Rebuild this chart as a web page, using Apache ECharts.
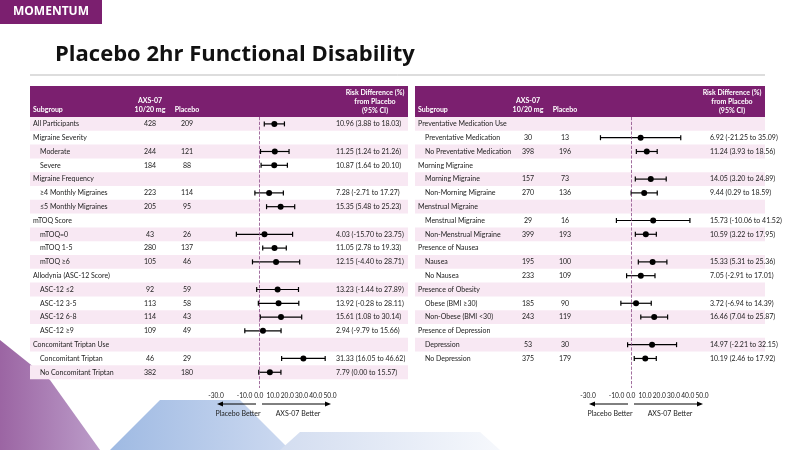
<!DOCTYPE html>
<html><head><meta charset="utf-8">
<script src="https://cdn.jsdelivr.net/npm/echarts@6/dist/echarts.min.js"></script>
<style>html,body{margin:0;padding:0;background:#fff}#c{width:800px;height:450px}</style>
</head><body><div id="c"></div>
<script>
// Left panel
const leftLabels = ['All Participants','Migraine Severity','Moderate','Severe','Migraine Frequency','≥4 Monthly Migraines','≤5 Monthly Migraines','mTOQ Score','mTOQ=0','mTOQ 1-5','mTOQ ≥6','Allodynia (ASC-12 Score)','ASC-12 ≤2','ASC-12 3-5','ASC-12 6-8','ASC-12 ≥9','Concomitant Triptan Use','Concomitant Triptan','No Concomitant Triptan'];
const leftIndent = [0,0,1,1,0,1,1,0,1,1,1,0,1,1,1,1,0,1,1];
const leftAxs = [428,null,244,184,null,223,205,null,43,280,105,null,92,113,114,109,null,46,382];
const leftPbo = [209,null,121,88,null,114,95,null,26,137,46,null,59,58,43,49,null,29,180];
const leftEst = [10.96,null,11.25,10.87,null,7.28,15.35,null,4.03,11.05,12.15,null,13.23,13.92,15.61,2.94,null,31.33,7.79];
const leftLo = [3.88,null,1.24,1.64,null,-2.71,5.48,null,-15.70,2.78,-4.40,null,-1.44,-0.28,1.08,-9.79,null,16.05,0.00];
const leftHi = [18.03,null,21.26,20.10,null,17.27,25.23,null,23.75,19.33,28.71,null,27.89,28.11,30.14,15.66,null,46.62,15.57];
// Right panel
const rightLabels = ['Preventative Medication Use','Preventative Medication','No Preventative Medication','Morning Migraine','Morning Migraine','Non-Morning Migraine','Menstrual Migraine','Menstrual Migraine','Non-Menstrual Migraine','Presence of Nausea','Nausea','No Nausea','Presence of Obesity','Obese (BMI ≥30)','Non-Obese (BMI <30)','Presence of Depression','Depression','No Depression'];
const rightIndent = [0,1,1,0,1,1,0,1,1,0,1,1,0,1,1,0,1,1];
const rightAxs = [null,30,398,null,157,270,null,29,399,null,195,233,null,185,243,null,53,375];
const rightPbo = [null,13,196,null,73,136,null,16,193,null,100,109,null,90,119,null,30,179];
const rightEst = [null,6.92,11.24,null,14.05,9.44,null,15.73,10.59,null,15.33,7.05,null,3.72,16.46,null,14.97,10.19];
const rightLo = [null,-21.25,3.93,null,3.20,0.29,null,-10.06,3.22,null,5.31,-2.91,null,-6.94,7.04,null,-2.21,2.46];
const rightHi = [null,35.09,18.56,null,24.89,18.59,null,41.52,17.95,null,25.36,17.01,null,14.39,25.87,null,32.15,17.92];
const xTicks = [-30,-20,-10,0,10,20,30,40,50];

const PURPLE = '#7b1f6f', PINK = '#f8e8f3', FONT = 'Lato';
function fmt(v){return v.toFixed(2);}
function rows(labels, indent, axs, pbo, est, lo, hi){
  return labels.map((l,i)=>({value:[i, est[i]==null?0:est[i], lo[i]==null?0:lo[i], hi[i]==null?0:hi[i]],
    lab:l, ind:indent[i], axs:axs[i], pbo:pbo[i], has:est[i]!=null,
    ci: est[i]==null?'':fmt(est[i])+' ('+fmt(lo[i])+' to '+fmt(hi[i])+')'}));
}
function makeRender(dataArr, P){
  return function(params, api){
    const d = dataArr[params.dataIndex];
    const y = api.coord([0, api.value(0)])[1];
    const h = api.size([0,1])[1];
    const ch = [];
    if (params.dataIndex % 2 === 0) ch.push({type:'rect', shape:{x:P.x0, y:y-h/2, width:P.x1-P.x0, height:h}, style:{fill:PINK}, z2:0});
    const ts = {fontFamily:FONT, fontSize:7, fill:'#222', textVerticalAlign:'middle'};
    ch.push({type:'text', style:Object.assign({}, ts, {text:d.lab, x:P.x0+3+(d.ind?7:0), y:y, textAlign:'left'}), z2:2});
    if (d.axs!=null) ch.push({type:'text', style:Object.assign({}, ts, {text:String(d.axs), x:P.cA, y:y, textAlign:'center'}), z2:2});
    if (d.pbo!=null) ch.push({type:'text', style:Object.assign({}, ts, {text:String(d.pbo), x:P.cP, y:y, textAlign:'center'}), z2:2});
    if (d.has){
      ch.push({type:'text', style:Object.assign({}, ts, {text:d.ci, x:P.cCI, y:y, textAlign:'left'}), z2:2});
      const a = api.coord([api.value(2), api.value(0)]), b = api.coord([api.value(3), api.value(0)]), c = api.coord([api.value(1), api.value(0)]);
      const ls = {stroke:'#000', lineWidth:1.2};
      ch.push({type:'line', shape:{x1:a[0],y1:y,x2:b[0],y2:y}, style:ls, z2:3});
      ch.push({type:'line', shape:{x1:a[0],y1:y-2.5,x2:a[0],y2:y+2.5}, style:ls, z2:3});
      ch.push({type:'line', shape:{x1:b[0],y1:y-2.5,x2:b[0],y2:y+2.5}, style:ls, z2:3});
      ch.push({type:'circle', shape:{cx:c[0], cy:y, r:3}, style:{fill:'#000'}, z2:4});
    }
    return {type:'group', children:ch};
  };
}
const L = rows(leftLabels,leftIndent,leftAxs,leftPbo,leftEst,leftLo,leftHi);
const R = rows(rightLabels,rightIndent,rightAxs,rightPbo,rightEst,rightLo,rightHi);
const PL = {x0:30, x1:408, cA:150, cP:187, cCI:336};
const PR = {x0:415, x1:765, cA:528, cP:565, cCI:710};

function xAx(gi){return {type:'value', gridIndex:gi, min:-30, max:50, interval:10,
  axisLine:{lineStyle:{color:'#333'}}, axisTick:{length:3, lineStyle:{color:'#333'}}, splitLine:{show:false},
  axisLabel:{fontFamily:FONT, fontSize:6.6, color:'#222', margin:4, showMinLabel:true, showMaxLabel:true, hideOverlap:false,
    formatter:v=>xTicks.includes(v)?v.toFixed(1):''}};}
function yAx(gi){return {type:'value', gridIndex:gi, inverse:true, min:-0.5, max:19.14, show:false};}
function header(P){
  const t = {fontFamily:FONT, fontSize:7, fontWeight:'bold', fill:'#fff'};
  return [
    {type:'rect', shape:{x:P.x0, y:86, width:P.x1-P.x0, height:31}, style:{fill:PURPLE}},
    {type:'text', style:Object.assign({}, t, {text:'Subgroup', x:P.x0+3, y:106})},
    {type:'text', style:Object.assign({}, t, {text:'AXS-07\n10/20 mg', x:P.cA, y:96, textAlign:'center', lineHeight:9})},
    {type:'text', style:Object.assign({}, t, {text:'Placebo', x:P.cP, y:106, textAlign:'center'})},
    {type:'text', style:Object.assign({}, t, {text:'Risk Difference (%)\nfrom Placebo\n(95% CI)', x:P.x1-33, y:88, textAlign:'center', lineHeight:9})}
  ];
}
function arrows(x0, zero, x1){
  const t = {fontFamily:FONT, fontSize:7, fill:'#222', textAlign:'center'};
  return [
    {type:'line', shape:{x1:zero-3, y1:404, x2:x0+4, y2:404}, style:{stroke:'#000', lineWidth:1}},
    {type:'polygon', shape:{points:[[x0,404],[x0+6,401.5],[x0+6,406.5]]}, style:{fill:'#000'}},
    {type:'line', shape:{x1:zero+3, y1:404, x2:x1-4, y2:404}, style:{stroke:'#000', lineWidth:1}},
    {type:'polygon', shape:{points:[[x1,404],[x1-6,401.5],[x1-6,406.5]]}, style:{fill:'#000'}},
    {type:'text', style:Object.assign({}, t, {text:'Placebo Better', x:(x0+zero)/2, y:410})},
    {type:'text', style:Object.assign({}, t, {text:'AXS-07 Better', x:(zero+x1)/2+3, y:410})}
  ];
}
const chart = echarts.init(document.getElementById('c'));
const dash = {silent:true, symbol:'none', label:{show:false}, lineStyle:{type:'dashed', color:'#8a4a86', width:0.8}, data:[{xAxis:0}]};
chart.setOption({
  animation:false,
  grid:[{left:216, width:114, top:117, height:271}, {left:588, width:114, top:117, height:271}],
  xAxis:[xAx(0), xAx(1)],
  yAxis:[yAx(0), yAx(1)],
  series:[
    {type:'custom', xAxisIndex:0, yAxisIndex:0, clip:false, renderItem:makeRender(L, PL), data:L.map(d=>d.value), markLine:dash, z:2},
    {type:'custom', xAxisIndex:1, yAxisIndex:1, clip:false, renderItem:makeRender(R, PR), data:R.map(d=>d.value), markLine:dash, z:2}
  ],
  graphic:[
    {type:'polygon', shape:{points:[[0,450],[0,340],[50,380],[100,450]]}, style:{fill:new echarts.graphic.LinearGradient(0,0,1,0,[{offset:0,color:'#8a4a93'},{offset:1,color:'#b08bc0'}]), opacity:0.85}, z:-10},
    {type:'polygon', shape:{points:[[110,450],[160,400],[240,400],[290,450]]}, style:{fill:new echarts.graphic.LinearGradient(0,0,1,0,[{offset:0,color:'#8eaede'},{offset:1,color:'#c4d3ee'}]), opacity:0.85}, z:-10},
    {type:'polygon', shape:{points:[[280,450],[300,432],[480,432],[500,450]]}, style:{fill:new echarts.graphic.LinearGradient(0,0,1,0,[{offset:0,color:'#d3ddf0'},{offset:1,color:'#f6f8fc'}])}, z:-10},
    {type:'rect', shape:{x:0, y:0, width:102, height:24}, style:{fill:PURPLE}},
    {type:'text', style:{text:'MOMENTUM', x:51, y:12, textAlign:'center', textVerticalAlign:'middle', fontFamily:'Open Sans', fontWeight:'bold', fontSize:12, fill:'#fff'}},
    {type:'text', style:{text:'Placebo 2hr Functional Disability', x:55, y:44, fontFamily:'Open Sans', fontWeight:'bold', fontSize:22, fill:'#111'}},
    {type:'line', shape:{x1:30, y1:75, x2:765, y2:75}, style:{stroke:'#bbb', lineWidth:1}},
    ...header(PL), ...header(PR),
    ...arrows(217, 259, 331), ...arrows(589, 631, 703)
  ]
});
</script></body></html>
